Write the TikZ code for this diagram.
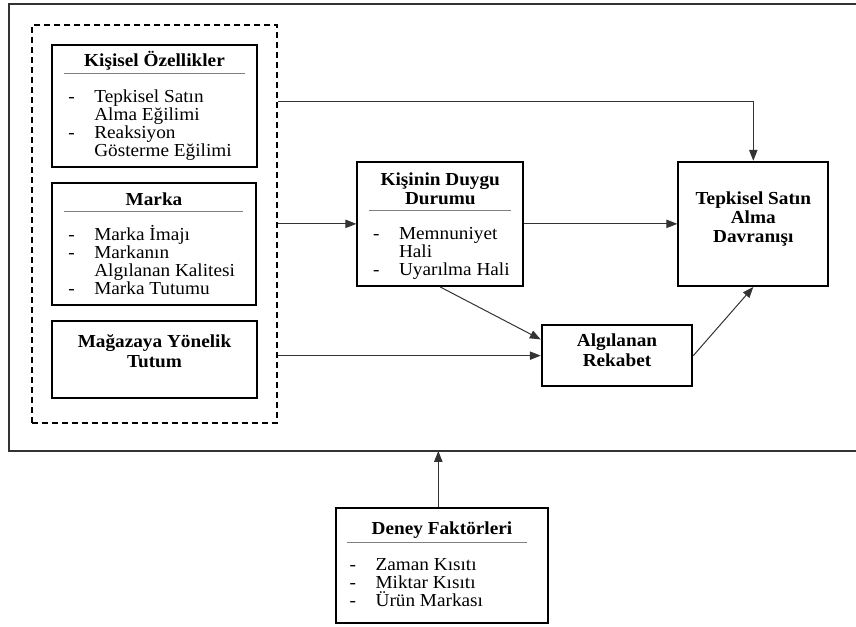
\documentclass[tikz,border=0pt]{standalone}
\usepackage{fontspec}
\setmainfont{Liberation Serif}[FakeStretch=1.05]
\usepackage{tikz}
\usetikzlibrary{fit,positioning,arrows.meta}
\newcommand{\Lt}[1]{\begin{tabular}[t]{@{}p{15.6pt}@{}l@{}}#1\end{tabular}}
\newcommand{\Tt}[1]{\begin{tabular}[t]{@{}c@{}}#1\end{tabular}}

\begin{document}
\begin{tikzpicture}[x=0.6pt,y=-0.6pt,
  box/.style={draw,line width=1.2pt,inner sep=0pt},
  ttl/.style={anchor=base,inner sep=0pt,font=\fontsize{11}{11.6}\selectfont\bfseries},
  lst/.style={anchor=base west,inner sep=0pt,font=\fontsize{11}{10.8}\selectfont},
  sep/.style={draw=gray,line width=0.7pt},
  arr/.style={draw=black!80,line width=0.6pt,-{Triangle[length=6.5pt,width=5pt]}}]
  \useasboundingbox (0,0) rectangle (856,627);
  \draw[line width=1pt,black!80] (856,4) -- (9,4) -- (9,451) -- (856,451);
  \coordinate (frm) at (438.3,451);
  \node[box,fit={(52,45) (257,167)}] (kisisel) {};
  \node[box,fit={(52,183) (256,305)}] (marka) {};
  \node[box,fit={(52,321) (257,398)}] (magaza) {};
  \node[box,dash pattern=on 3.6pt off 2.4pt,fit={(32,25) (277,423)}] (grp) {};
  \node[box,fit={(357.3,161.7) (523.3,286)}] (kisinin) {};
  \node[box,fit={(678.3,161.7) (828.3,286)}] (tepkisel) {};
  \node[box,fit={(541.7,325.3) (692.3,386)}] (algilanan) {};
  \node[box,fit={(335.7,508.3) (548.3,623.3)}] (deney) {};
  \node[ttl] (kisiselT) at (154.5,66.7) {Kişisel Özellikler};
  \node[ttl] (markaT) at (154,205) {Marka};
  \node[ttl] (magazaT) at (154.5,347.7) {\Tt{Mağazaya Yönelik\\Tutum}};
  \node[ttl] (kisininT) at (440.3,185) {\Tt{Kişinin Duygu\\Durumu}};
  \node[ttl] (tepkiselT) at (753.3,204.3) {\Tt{Tepkisel Satın\\Alma\\Davranışı}};
  \node[ttl] (algilananT) at (617,346.7) {\Tt{Algılanan\\Rekabet}};
  \node[ttl] (deneyT) at (442,534.3) {Deney Faktörleri};
  \draw[sep] (64,73.3) -- (245,73.3);
  \draw[sep] (64,211.7) -- (242.7,211.7);
  \draw[sep] (369,210.7) -- (511,210.7);
  \draw[sep] (347,542.3) -- (526.7,542.3);
  \node[lst] (kisiselL) at (68,102) {\Lt{-&Tepkisel Satın\\ &Alma Eğilimi\\-&Reaksiyon\\ &Gösterme Eğilimi}};
  \node[lst] (markaL) at (68,240) {\Lt{-&Marka İmajı\\-&Markanın\\ &Algılanan Kalitesi\\-&Marka Tutumu}};
  \node[lst] (kisininL) at (372.7,239.3) {\Lt{-&Memnuniyet\\ &Hali\\-&Uyarılma Hali}};
  \node[lst] (deneyL) at (349.3,570.7) {\Lt{-&Zaman Kısıtı\\-&Miktar Kısıtı\\-&\smash{Ü}rün Markası}};
  \draw[arr] (grp.east |- 0,101.7) -| (tepkisel.north);
  \draw[arr] (grp.east |- kisinin.west) -- (kisinin.west);
  \draw[arr] (grp.east |- algilanan.west) -- (algilanan.west);
  \draw[arr] (kisinin) -- (tepkisel);
  \draw[arr] (kisinin.south) -- (algilanan.168);
  \draw[arr] (algilanan.east) -- (tepkisel.south);
  \draw[arr] (deney.north -| frm) -- (frm);
\end{tikzpicture}
\end{document}
